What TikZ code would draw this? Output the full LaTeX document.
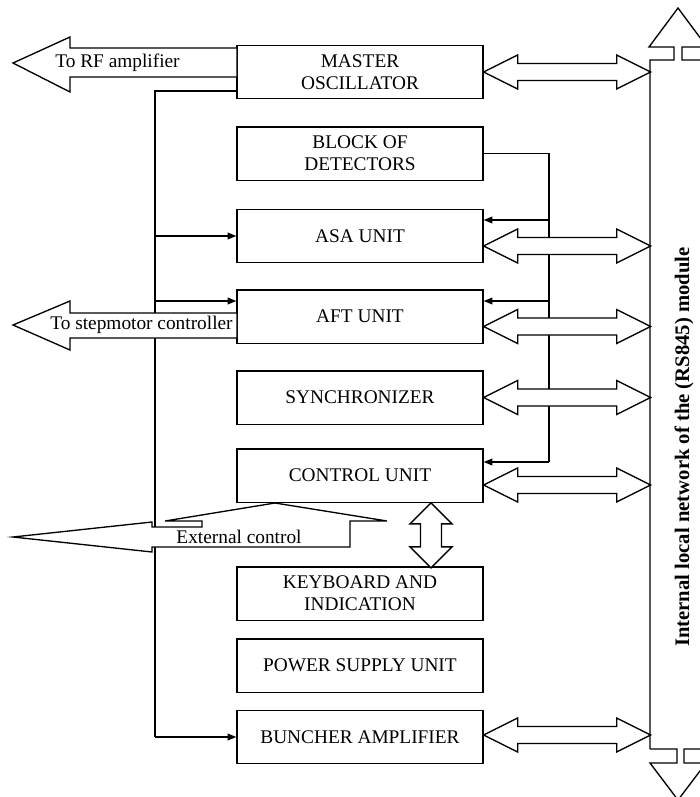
\documentclass[tikz,border=0pt]{standalone}
\usepackage{fontspec}
\setmainfont{Liberation Serif}
\usetikzlibrary{arrows.meta,calc}

\tikzset{
	unit/.style={draw, line width=1pt, minimum width=184.5pt, minimum height=40pt, inner sep=0pt, align=center, font=\fontsize{14.5}{16.5}\selectfont},
	wire/.style={line width=1pt},
	feed/.style={wire, -{Triangle[length=6.5pt,width=5pt]}},
	blockarrow/.style={draw, fill=white, line width=1pt, line join=miter},
	tag/.style={inner sep=0pt, font=\fontsize{14.5}{16.5}\selectfont},
}

% double block arrow from a unit to the network bus
\newcommand\busarrow[2]{%
	\draw[blockarrow] ($(#1.east)+(0,#2)$) -- ++(34,-17) -- ++(0,8.5) -- ++(99,0) -- ++(0,-8.5) -- ++(34,17) -- ++(-34,17) -- ++(0,-8.5) -- ++(-99,0) -- ++(0,8.5) -- cycle;}

\begin{document}
\begin{tikzpicture}[x=0.75pt,y=0.75pt,yscale=-1,xscale=1]
	\useasboundingbox (0,0) rectangle (700,797);
	\clip (0,0) rectangle (700,797);

	% units
	\node[unit] (mo) at (360,72) {MASTER\\OSCILLATOR};
	\node[unit] (bd) at (360,153.5) {BLOCK OF\\DETECTORS};
	\node[unit] (asa) at (360,236) {ASA UNIT};
	\node[unit] (aft) at (360,316.5) {AFT UNIT};
	\node[unit] (sync) at (360,397.5) {SYNCHRONIZER};
	\node[unit] (cu) at (360,475.5) {CONTROL UNIT};
	\node[unit] (kb) at (360,593.5) {KEYBOARD AND\\INDICATION};
	\node[unit] (psu) at (360,665.5) {POWER SUPPLY UNIT};
	\node[unit] (ba) at (360,737) {BUNCHER AMPLIFIER};

	% oscillator line on the left
	\coordinate (ltop) at (155,91);
	\coordinate (laft) at (155,301);
	\draw[wire] (ltop -| mo.west) -- (ltop) -- (ltop |- ba.west);
	\draw[feed] (ltop |- asa.west) -- (asa.west);
	\draw[feed] (laft) -- (laft -| aft.west);
	\draw[feed] (ltop |- ba.west) -- (ba.west);

	% detector line on the right
	\coordinate (dtop) at (549,153.5);
	\coordinate (dasa) at (549,220);
	\coordinate (daft) at (549,301);
	\coordinate (dcu) at (549,462);
	\draw[wire] (bd.east) -- (dtop) -- (dcu);
	\draw[feed] (dasa) -- (dasa -| asa.east);
	\draw[feed] (daft) -- (daft -| aft.east);
	\draw[feed] (dcu) -- (dcu -| cu.east);

	% network bus
	\draw[wire] (650,749) -- (650,60) -- (674,60) -- (674,47) -- (649,47) -- (678,8) -- (707,47) -- (682,47) -- (682,60) -- (710,60);
	\draw[wire] (650,749) -- (677,749) -- (677,763) -- (650,763) -- (678,800) -- (706,763) -- (684,763) -- (684,749) -- (710,749);
	\node[rotate=90, inner sep=0pt, font=\bfseries\fontsize{15.5}{18}\selectfont] (net) at (684,447) {Internal local network of the (RS845) module};

	\busarrow{mo}{0}
	\busarrow{asa}{10}
	\busarrow{aft}{10}
	\busarrow{sync}{0}
	\busarrow{cu}{9.5}
	\busarrow{ba}{-2}

	% outputs on the left
	\coordinate (rftip) at (13,63);
	\draw[blockarrow] (rftip) -- ++(57,-26) -- ++(0,11) -- ++(167,0) -- ++(0,29) -- ++(-167,0) -- ++(0,15) -- cycle;
	\node[tag] (rf) at (117.5,63) {To RF amplifier};

	\coordinate (smtip) at (13,325);
	\draw[blockarrow] (smtip) -- ++(57,-24) -- ++(0,12) -- ++(167,0) -- ++(0,25) -- ++(-167,0) -- ++(0,12) -- cycle;
	\node[tag] (sm) at (141.5,325) {To stepmotor controller};

	\coordinate (extip) at (13,537);
	\draw[blockarrow] (extip) -- ++(139,-15) -- ++(0,5) -- ++(50,0) -- ++(0,-6) -- ++(-37,0) -- ++(110,-18) -- ++(112,18) -- ++(-37,0) -- ++(0,26) -- ++(-198,0) -- ++(0,5) -- cycle;
	\node[tag] (ext) at (239,537) {External control};

	% control unit to keyboard
	\draw[blockarrow] ($(cu.south)+(71,0)$) -- ++(21,21) -- ++(-10.5,0) -- ++(0,23) -- ++(10.5,0) -- ++(-21,21) -- ++(-21,-21) -- ++(10.5,0) -- ++(0,-23) -- ++(-10.5,0) -- cycle;
\end{tikzpicture}
\end{document}
